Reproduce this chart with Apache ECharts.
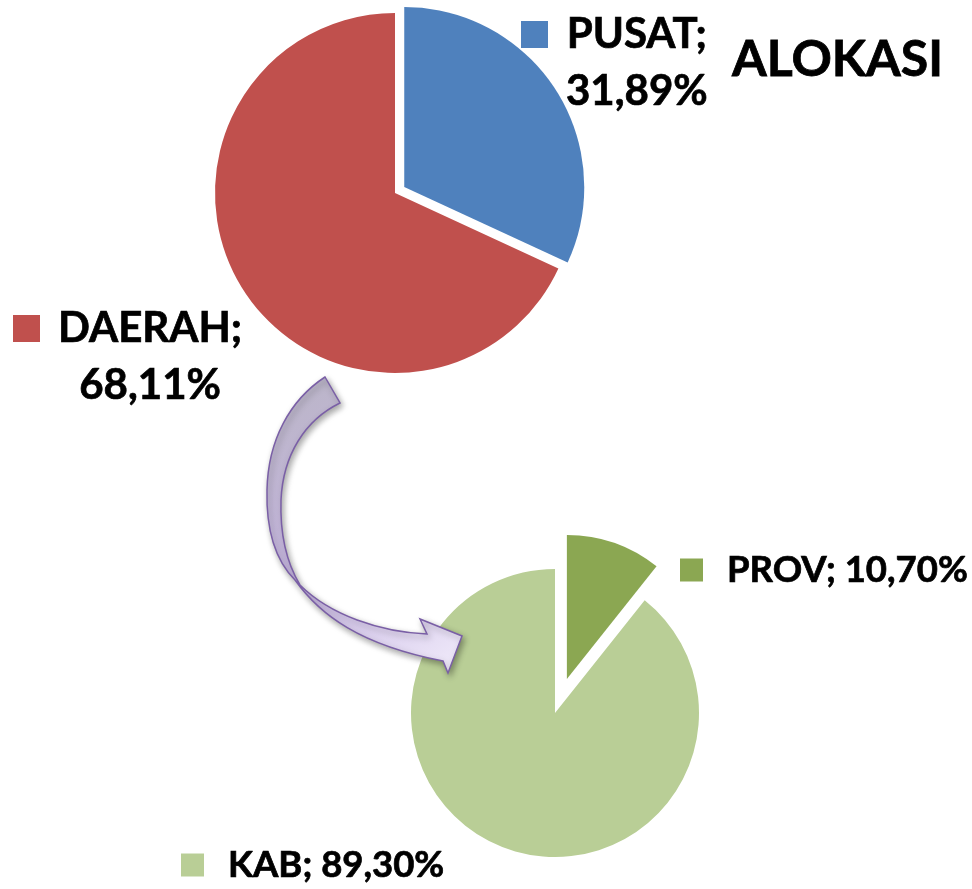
<!DOCTYPE html>
<html>
<head>
<meta charset="utf-8">
<script src="https://cdn.jsdelivr.net/npm/echarts@6/dist/echarts.min.js"></script>
<style>
html, body { margin: 0; padding: 0; background: #fff; }
#chart { width: 972px; height: 889px; }
</style>
</head>
<body>
<div id="chart"></div>
<script>
var titleText = 'ALOKASI';
var topNames = ['PUSAT', 'DAERAH'];
var topValues = [31.89, 68.11];
var bottomNames = ['PROV', 'KAB'];
var bottomValues = [10.70, 89.30];

var topColors = ['#4F81BD', '#C0504D'];
var bottomColors = ['#8BA752', '#B9CE96'];
// label box top-left corners, per pie / data index
var labelPos = [
	[[521, 6], [13, 300]],
	[[680, 548], [181, 843]]
];
var FONT = 'Lato';
var arrowPath = 'M325,377 C290,400 268,440 267,490 C266,530 275,560 295,580 ' +
	'C320,615 360,645 443,661 L448,673 L462,636 L420,619 L427,634 ' +
	'C380,632 330,615 300,585 C285,560 280,530 281,500 C283,455 305,420 340,403 Z';

function pct(v) {
	return v.toFixed(2).replace('.', ',') + '%';
}

function makeData(names, values, colors, explodeIndex) {
	var out = [];
	for (var i = 0; i < names.length; i++) {
		out.push({
			name : names[i],
			value : values[i],
			selected : i === explodeIndex,
			itemStyle : { color : colors[i] }
		});
	}
	return out;
}

function textStyle(size, lh) {
	return {
		fontFamily : FONT, fontWeight : 'bold', fontSize : size, lineHeight : lh,
		color : '#000', align : 'center', textBorderColor : '#000', textBorderWidth : 0.7
	};
}

// visible pie, exploded slice via select state
function piePart(name, center, radius, offset, names, values, colors) {
	return {
		name : name,
		type : 'pie',
		center : center,
		radius : radius,
		startAngle : 90,
		selectedMode : 'single',
		selectedOffset : offset,
		emphasis : { scale : false },
		label : { show : false },
		labelLine : { show : false },
		data : makeData(names, values, colors, 0)
	};
}

// invisible twin pie that only carries the data labels
function labelPart(idx, center, radius, names, values, colors, twoLines, size, lh, sqSize, gap) {
	var rich = {
		sq0 : { width : sqSize, height : sqSize, backgroundColor : colors[0], lineHeight : lh },
		sq1 : { width : sqSize, height : sqSize, backgroundColor : colors[1], lineHeight : lh },
		gap : { width : gap, lineHeight : lh },
		pad : { width : sqSize + gap, lineHeight : lh },
		t : textStyle(size, lh)
	};
	return {
		type : 'pie',
		center : center,
		radius : radius,
		startAngle : 90,
		silent : true,
		z : 1,
		avoidLabelOverlap : false,
		itemStyle : { color : 'rgba(0,0,0,0)' },
		labelLine : { show : false },
		data : makeData(names, values, ['rgba(0,0,0,0)', 'rgba(0,0,0,0)'], -1),
		label : {
			show : true,
			overflow : 'none',
			formatter : function(p) {
				if (twoLines) {
					return '{sq' + p.dataIndex + '|}{gap|}{t|' + p.name + ';}\n{pad|}{t|' + pct(p.value) + '}';
				}
				return '{sq' + p.dataIndex + '|}{gap|}{t|' + p.name + '; ' + pct(p.value) + '}';
			},
			rich : rich
		},
		labelLayout : function(params) {
			var p = labelPos[idx][params.dataIndex];
			return { x : p[0], y : p[1], align : 'left', verticalAlign : 'top' };
		}
	};
}

var myChart = echarts.init(document.getElementById('chart'));
var option = {
	animation : false,
	title : {
		text : titleText,
		left : 727,
		top : 30,
		textStyle : {
			fontFamily : FONT, fontWeight : 'bold', fontSize : 50, color : '#000',
			textBorderColor : '#000', textBorderWidth : 0.8
		}
	},
	series : [
		labelPart(0, [395, 193], 180, topNames, topValues, topColors, true, 42, 57, 27, 18),
		labelPart(1, [555, 713], 144, bottomNames, bottomValues, bottomColors, false, 36.5, 44, 23, 24),
		piePart('top', [395, 193], 180, 11, topNames, topValues, topColors),
		piePart('bottom', [555, 713], 144, 36, bottomNames, bottomValues, bottomColors),
		{
			name : 'arrow',
			type : 'custom',
			coordinateSystem : 'none',
			silent : true,
			z : 10,
			data : [0],
			renderItem : function() {
				return {
					type : 'path',
					shape : { pathData : arrowPath },
					style : {
						fill : {
							type : 'linear', x : 0, y : 0, x2 : 1, y2 : 1,
							colorStops : [
								{ offset : 0, color : '#B9B5C4' },
								{ offset : 0.55, color : '#C7B6E2' },
								{ offset : 1, color : '#F2EDFB' }
							]
						},
						stroke : '#7A5FA6',
						lineWidth : 1.5,
						shadowBlur : 6,
						shadowOffsetX : 2,
						shadowOffsetY : 3,
						shadowColor : 'rgba(0,0,0,0.35)'
					}
				};
			}
		}
	]
};
myChart.setOption(option);
</script>
</body>
</html>
